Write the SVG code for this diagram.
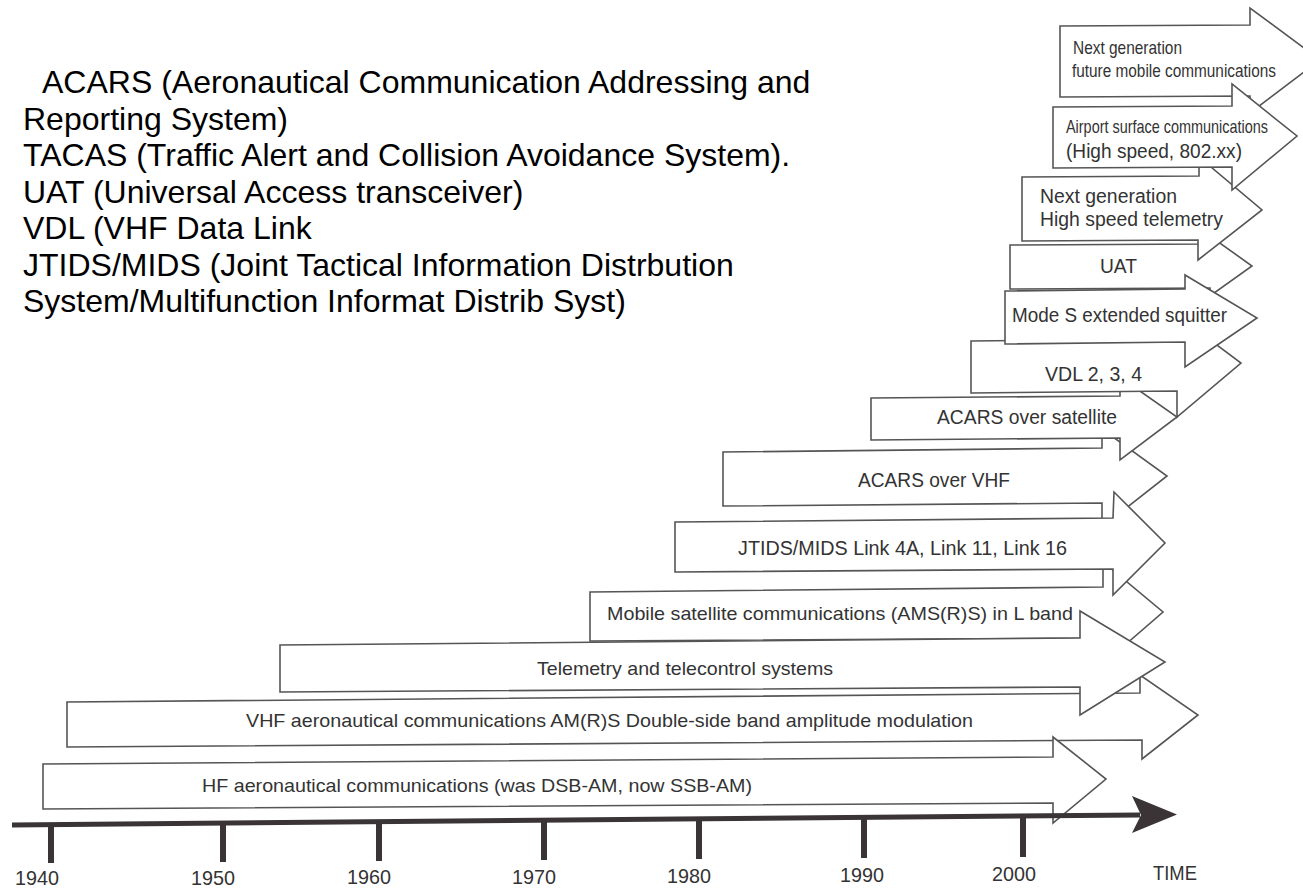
<svg xmlns="http://www.w3.org/2000/svg" width="1303" height="890" viewBox="0 0 1303 890">
<style>
.ar{fill:#fff;stroke:#555;stroke-width:1.6;stroke-linejoin:miter}
.lb{font-family:"Liberation Sans",Arial,sans-serif;fill:#333}
.c{font-size:18.5px}
.r{font-size:19.5px}
.yr{font-family:"Liberation Sans",Arial,sans-serif;font-size:21px;fill:#333}
.note{font-family:"Liberation Sans",Arial,sans-serif;font-size:32px;fill:#000}
.tick{stroke:#3a3436;stroke-width:6}
</style>
<rect width="1303" height="890" fill="#fff"/>
<g id="legend">
<text class="note" x="42" y="93">ACARS (Aeronautical Communication Addressing and</text>
<text class="note" x="23" y="130">Reporting System)</text>
<text class="note" x="23" y="166">TACAS (Traffic Alert and Collision Avoidance System).</text>
<text class="note" x="23" y="203">UAT (Universal Access transceiver)</text>
<text class="note" x="23" y="239">VDL (VHF Data Link</text>
<text class="note" x="23" y="276">JTIDS/MIDS (Joint Tactical Information Distrbution</text>
<text class="note" x="23" y="312">System/Multifunction Informat Distrib Syst)</text>
</g>
<g id="n-nextgen-mobile">
<polygon class="ar" points="1060,26 1250,25 1250,8 1320,60 1250,113 1250,96 1060,97"/>
<text class="lb c" transform="translate(1073,54) scale(0.835,1)">Next generation</text>
<text class="lb c" transform="translate(1072,77) scale(0.83,1)">future mobile communications</text>
</g>
<g id="n-uat">
<polygon class="ar" points="1010,245 1210,244 1210,236 1252,266 1210,296 1210,288 1010,289"/>
<text class="lb r" x="1100" y="273" textLength="37" lengthAdjust="spacingAndGlyphs">UAT</text>
</g>
<g id="n-nextgen-telemetry">
<polygon class="ar" points="1022,177 1199,176 1199,157 1262,210 1198,260 1198,240 1022,241"/>
<text class="lb r" x="1040" y="203" textLength="137" lengthAdjust="spacingAndGlyphs">Next generation</text>
<text class="lb r" x="1040" y="226" textLength="183" lengthAdjust="spacingAndGlyphs">High speed telemetry</text>
</g>
<g id="n-airport">
<polygon class="ar" points="1053,107 1232,106 1232,84 1297,136 1232,190 1232,167 1053,168"/>
<text class="lb c" transform="translate(1066,133) scale(0.78,1)">Airport surface communications</text>
<text class="lb r" x="1066" y="158" textLength="176" lengthAdjust="spacingAndGlyphs">(High speed, 802.xx)</text>
</g>
<g id="n-acars-vhf">
<polygon class="ar" points="723,452 1102,448 1102,429 1167,476 1102,527 1102,503 723,506"/>
<text class="lb r" x="858" y="487" textLength="152" lengthAdjust="spacingAndGlyphs">ACARS over VHF</text>
</g>
<g id="n-acars-sat">
<polygon class="ar" points="871,398 1120,396 1120,377 1177,417 1120,460 1120,438 871,440"/>
<text class="lb r" x="937" y="424" textLength="180" lengthAdjust="spacingAndGlyphs">ACARS over satellite</text>
</g>
<g id="n-vdl">
<polygon class="ar" points="971,341 1177,339 1177,315 1241,363 1177,417 1177,391 971,393"/>
<text class="lb r" x="1045" y="381" textLength="97" lengthAdjust="spacingAndGlyphs">VDL 2, 3, 4</text>
</g>
<g id="n-modes">
<polygon class="ar" points="1005,291 1185,289 1185,275 1257,318 1185,367 1185,342 1005,344"/>
<text class="lb r" x="1012" y="322" textLength="215" lengthAdjust="spacingAndGlyphs">Mode S extended squitter</text>
</g>
<g id="n-mobile-sat">
<polygon class="ar" points="590,592 1103,587 1103,562 1163,612 1103,664 1103,638 590,641"/>
<text class="lb c" x="607" y="620" textLength="466" lengthAdjust="spacingAndGlyphs">Mobile satellite communications (AMS(R)S) in L band</text>
</g>
<g id="n-jtids">
<polygon class="ar" points="675,522 1113,518 1114,492 1165,543 1113,595 1113,569 675,572"/>
<text class="lb r" x="738" y="555" textLength="329" lengthAdjust="spacingAndGlyphs">JTIDS/MIDS Link 4A, Link 11, Link 16</text>
</g>
<g id="n-vhf">
<polygon class="ar" points="67,702 1140,693 1140,675 1198,715 1142,759 1142,740 67,747"/>
<text class="lb c" x="246" y="727" textLength="727" lengthAdjust="spacingAndGlyphs">VHF aeronautical communications AM(R)S Double-side band amplitude modulation</text>
</g>
<g id="n-telecontrol">
<polygon class="ar" points="280,645 1080,638 1080,611 1165,662 1080,715 1080,687 280,692"/>
<text class="lb c" x="537" y="675" textLength="296" lengthAdjust="spacingAndGlyphs">Telemetry and telecontrol systems</text>
</g>
<g id="n-hf">
<polygon class="ar" points="43,764 1053,757 1053,737 1106,779 1053,823 1053,803 43,809"/>
<text class="lb c" x="202" y="792" textLength="550" lengthAdjust="spacingAndGlyphs">HF aeronautical communications (was DSB-AM, now SSB-AM)</text>
</g>
<g id="connectors">
<line x1="12" y1="825" x2="1140" y2="815" stroke="#3a3436" stroke-width="5"/>
<polygon points="1132,796 1177,814.5 1132,833 1141,815" fill="#3a3436"/>
<line class="tick" x1="51" y1="824" x2="51" y2="863"/>
<line class="tick" x1="223" y1="823" x2="223" y2="862"/>
<line class="tick" x1="379" y1="822" x2="379" y2="861"/>
<line class="tick" x1="544" y1="820" x2="544" y2="860"/>
<line class="tick" x1="699" y1="819" x2="699" y2="859"/>
<line class="tick" x1="864" y1="817" x2="864" y2="858"/>
<line class="tick" x1="1023" y1="816" x2="1023" y2="857"/>
</g>
<g id="axis-labels">
<text class="yr" x="15" y="885" textLength="44" lengthAdjust="spacingAndGlyphs">1940</text>
<text class="yr" x="191" y="884.5" textLength="44" lengthAdjust="spacingAndGlyphs">1950</text>
<text class="yr" x="347" y="884" textLength="44" lengthAdjust="spacingAndGlyphs">1960</text>
<text class="yr" x="512" y="883.5" textLength="44" lengthAdjust="spacingAndGlyphs">1970</text>
<text class="yr" x="667" y="883" textLength="44" lengthAdjust="spacingAndGlyphs">1980</text>
<text class="yr" x="840" y="882" textLength="44" lengthAdjust="spacingAndGlyphs">1990</text>
<text class="yr" x="992" y="881" textLength="44" lengthAdjust="spacingAndGlyphs">2000</text>
<text class="yr" x="1153" y="880" textLength="44" lengthAdjust="spacingAndGlyphs">TIME</text>
</g>
</svg>
